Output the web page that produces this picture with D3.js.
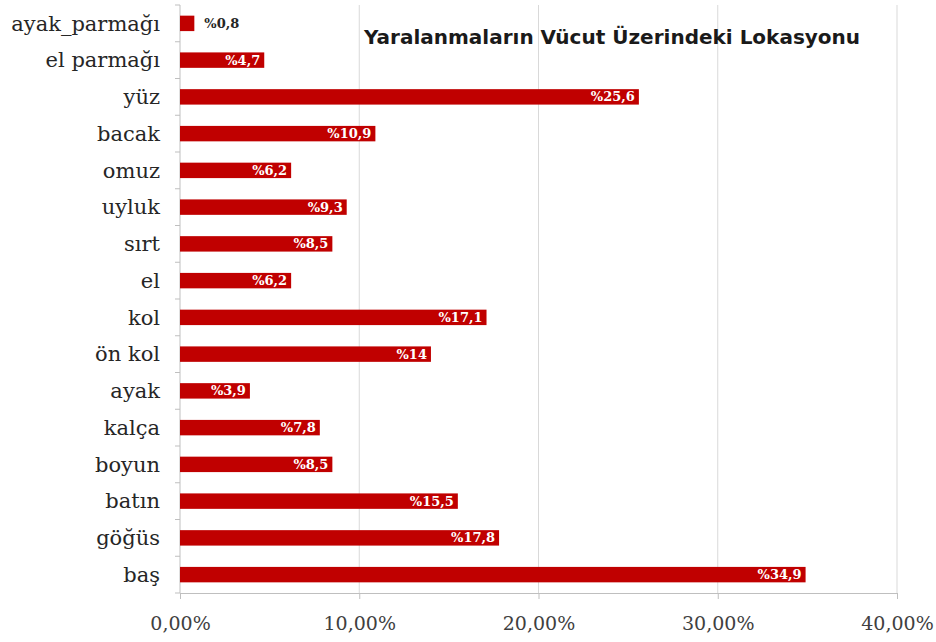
<!DOCTYPE html>
<html>
<head>
<meta charset="utf-8">
<script src="https://cdn.jsdelivr.net/npm/d3@7"></script>
<style>
  html, body { margin: 0; padding: 0; background: #fff; }
  svg { display: block; }
</style>
</head>
<body>
<svg id="chart" width="936" height="642"></svg>
<script>
// Injury locations on the body, share of cases (%)
const categories = [
  "ayak_parmağı", "el parmağı", "yüz", "bacak", "omuz", "uyluk", "sırt", "el",
  "kol", "ön kol", "ayak", "kalça", "boyun", "batın", "göğüs", "baş"
];
const values = [0.8, 4.7, 25.6, 10.9, 6.2, 9.3, 8.5, 6.2, 17.1, 14, 3.9, 7.8, 8.5, 15.5, 17.8, 34.9];
const xTicks = [0, 10, 20, 30, 40];
const title = "Yaralanmaların Vücut Üzerindeki Lokasyonu";

const svg = d3.select("#chart");
const margin = { top: 5, left: 180, right: 39, bottom: 49 };
const W = 936, H = 642;
const serif = "'DejaVu Serif', serif";

const x = d3.scaleLinear().domain([0, 40]).range([margin.left, W - margin.right]);
const y = d3.scaleBand().domain(categories).range([margin.top, H - margin.bottom]).paddingInner(0.58).paddingOuter(0.29);

const fmtTick = v => v.toFixed(2).replace(".", ",") + "%";
const fmtVal = v => "%" + String(v).replace(".", ",");

// vertical gridlines
svg.append("g")
  .selectAll("line")
  .data(xTicks.filter(t => t > 0))
  .join("line")
  .attr("x1", d => x(d)).attr("x2", d => x(d))
  .attr("y1", margin.top).attr("y2", H - margin.bottom)
  .attr("stroke", "#d9d9d9").attr("stroke-width", 1);

// bottom axis
const xAxis = svg.append("g")
  .attr("transform", `translate(0,${H - margin.bottom})`)
  .call(d3.axisBottom(x).tickValues(xTicks).tickFormat(fmtTick).tickSize(6).tickPadding(18));
xAxis.select(".domain").attr("stroke", "#bfbfbf");
xAxis.selectAll(".tick line").attr("stroke", "#bfbfbf");
xAxis.selectAll("text")
  .attr("font-family", serif)
  .attr("font-size", 19).attr("fill", "#404040");

// left axis: ticks sit on the category boundaries
const boundaries = categories.map(c => y(c) - y.step() * y.paddingInner() / 2).concat([H - margin.bottom]);
svg.append("line")
  .attr("x1", margin.left).attr("x2", margin.left)
  .attr("y1", margin.top).attr("y2", H - margin.bottom)
  .attr("stroke", "#bfbfbf");
svg.append("g").selectAll("line")
  .data(boundaries)
  .join("line")
  .attr("x1", margin.left - 5).attr("x2", margin.left)
  .attr("y1", d => d).attr("y2", d => d)
  .attr("stroke", "#bfbfbf");

svg.append("g").selectAll("text")
  .data(categories)
  .join("text")
  .attr("x", 160)
  .attr("y", d => y(d) + y.bandwidth() / 2)
  .attr("dy", "0.35em")
  .attr("text-anchor", "end")
  .attr("font-family", serif)
  .attr("font-size", 21)
  .attr("fill", "#262626")
  .text(d => d);

// bars
svg.append("g").selectAll("rect")
  .data(values)
  .join("rect")
  .attr("x", x(0))
  .attr("y", (d, i) => y(categories[i]))
  .attr("width", d => x(d) - x(0))
  .attr("height", y.bandwidth())
  .attr("fill", "#c00000");

// value labels: inside the bar end, or just outside when the bar is too short
svg.append("g").selectAll("text")
  .data(values)
  .join("text")
  .each(function (d, i) {
    const inside = x(d) - x(0) > 40;
    d3.select(this)
      .attr("x", inside ? x(d) - 4 : x(d) + 10)
      .attr("y", y(categories[i]) + y.bandwidth() / 2)
      .attr("dy", "0.35em")
      .attr("text-anchor", inside ? "end" : "start")
      .attr("fill", inside ? "#ffffff" : "#262626");
  })
  .attr("font-family", serif)
  .attr("font-size", 13)
  .attr("font-weight", "bold")
  .text(d => fmtVal(d));

// title
svg.append("text")
  .attr("x", 612).attr("y", 37)
  .attr("dy", "0.35em")
  .attr("text-anchor", "middle")
  .attr("font-family", "'DejaVu Sans', Verdana, sans-serif")
  .attr("font-weight", "bold")
  .attr("font-size", 20)
  .attr("fill", "#1a1a1a")
  .text(title);
</script>
</body>
</html>
